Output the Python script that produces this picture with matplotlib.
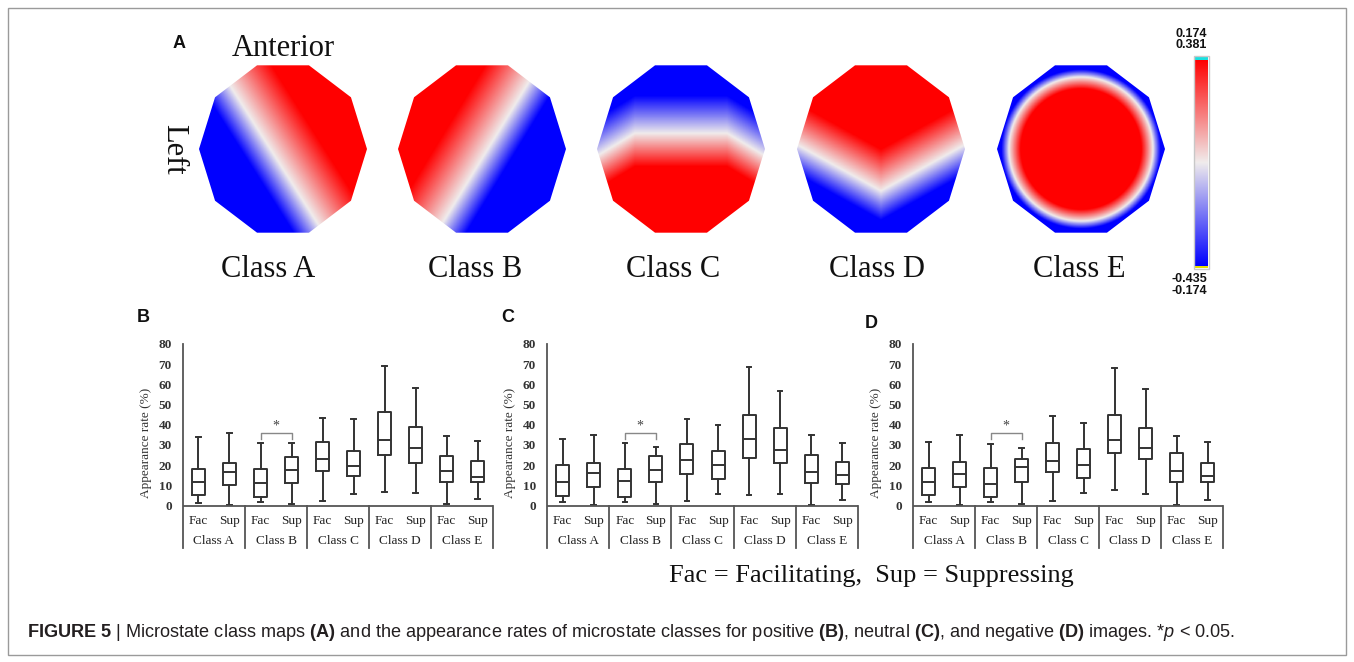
import numpy as np
import matplotlib
matplotlib.use("Agg")
import matplotlib.pyplot as plt
from matplotlib.colors import LinearSegmentedColormap
from matplotlib.patches import Polygon, Rectangle
from matplotlib import transforms

plt.rcParams["font.family"] = ["Liberation Serif", "DejaVu Serif"]
plt.rcParams["mathtext.fontset"] = "custom"
plt.rcParams["mathtext.rm"] = "Liberation Sans"
plt.rcParams["mathtext.bf"] = "Liberation Sans:bold"
plt.rcParams["mathtext.it"] = "Liberation Sans:italic"

W, H = 1354, 662

# ---- data -------------------------------------------------------------
classes = ["Class A", "Class B", "Class C", "Class D", "Class E"]
conditions = ["Fac", "Sup"]
yticks = [0, 10, 20, 30, 40, 50, 60, 70, 80]

# order: A Fac, A Sup, B Fac, B Sup, ... E Sup
pos_high = [33.7, 35.8, 31.2, 31.2, 43.4, 42.9, 69.3, 58.1, 34.2, 32.0]
pos_q3 = [18.0, 21.1, 18.0, 24.1, 31.4, 27.1, 46.2, 38.9, 24.4, 21.8]
pos_med = [11.4, 16.5, 11.0, 17.7, 23.1, 19.8, 32.3, 28.5, 17.0, 14.2]
pos_q1 = [5.1, 10.2, 4.1, 11.0, 17.2, 14.4, 24.9, 21.1, 11.4, 11.6]
pos_low = [1.3, 0.3, 1.6, 0.7, 2.3, 5.9, 6.9, 6.4, 0.7, 3.1]

neu_high = [32.7, 35.0, 31.0, 28.9, 42.9, 40.1, 68.5, 56.8, 34.8, 31.2]
neu_q3 = [20.0, 21.0, 18.2, 24.4, 30.4, 27.2, 44.9, 38.6, 24.9, 21.6]
neu_med = [11.4, 16.2, 11.9, 17.8, 22.4, 20.3, 32.7, 27.4, 16.5, 14.9]
neu_q1 = [4.8, 9.2, 4.3, 11.4, 15.5, 13.0, 23.6, 21.3, 10.9, 10.7]
neu_low = [1.8, 0.3, 1.8, 0.5, 2.1, 5.6, 5.0, 5.8, 0.3, 2.5]

neg_high = [31.4, 34.8, 30.4, 28.4, 44.2, 40.7, 68.3, 57.6, 34.3, 31.5]
neg_q3 = [18.5, 21.5, 18.5, 23.1, 31.0, 28.1, 45.0, 38.2, 26.0, 21.3]
neg_med = [11.4, 15.7, 10.7, 19.0, 21.9, 20.2, 32.5, 28.6, 17.0, 14.5]
neg_q1 = [5.1, 9.4, 4.3, 11.4, 16.7, 13.5, 26.2, 23.0, 11.4, 11.5]
neg_low = [1.6, 0.3, 1.6, 0.8, 2.1, 6.0, 7.6, 5.9, 0.3, 2.9]

cbar_top = ["0.174", "0.381"]
cbar_bottom = ["-0.435", "-0.174"]

caption = (r"$\mathbf{FIGURE\ 5}$ | Microstate class maps $\mathbf{(A)}$ and the "
           r"appearance rates of microstate classes for positive $\mathbf{(B)}$, "
           r"neutral $\mathbf{(C)}$, and negative $\mathbf{(D)}$ images. "
           r"*$\mathit{p}$ < 0.05.")

# ---- figure -----------------------------------------------------------
fig = plt.figure(figsize=(W / 100, H / 100), dpi=100)
bg = fig.add_axes([0, 0, 1, 1])
bg.axis("off")

cmap = LinearSegmentedColormap.from_list("bwr_map", ["#0000ff", "#f0ecec", "#ff0000"])


def shade(s, wp, wn):
    return np.where(s > 0, np.clip(s / wp, 0, 1), np.clip(s / wn, -1, 0))


# map grid (v points to the front of the head)
n = 300
half = 90 / 84
U, V = np.meshgrid(np.linspace(-half, half, n), np.linspace(half, -half, n))
R = np.hypot(U, V)
fields = [
    shade(0.843 * U + 0.535 * V + 0.128, 0.55, 0.3),
    shade(-0.853 * U + 0.522 * V + 0.06, 0.55, 0.3),
    shade((0.19 - V) - 0.6 * np.maximum(np.abs(U) - 0.55, 0), 0.4, 0.45),
    shade(V + 0.5 - 0.55 * np.abs(U), 0.5, 0.35),
    shade(0.86 - R, 0.14, 0.09),
]

map_x = [283, 482, 681, 881, 1081]
map_y = 149
label_x = [268, 475, 673, 877, 1079]
ang = np.deg2rad(np.arange(0, 360, 36))
for cx, fld, lx, name in zip(map_x, fields, label_x, classes):
    verts = np.column_stack([cx + 84 * np.cos(ang), map_y - 88 * np.sin(ang)])
    patch = Polygon(verts, closed=True, facecolor="none", edgecolor="none")
    bg.add_patch(patch)
    im = bg.imshow(fld, cmap=cmap, vmin=-1, vmax=1, origin="upper",
                   extent=(cx - 90, cx + 90, map_y + 90, map_y - 90),
                   interpolation="bilinear", aspect="auto")
    im.set_clip_path(patch)
    bg.text(lx, 277, name, ha="center", va="baseline", fontsize=22, color="#111")

bg.text(283, 56, "Anterior", ha="center", va="baseline", fontsize=22, color="#111")
bg.text(174, 149, "Left", ha="center", va="center", rotation=270, fontsize=22, color="#111")
bg.text(179, 44, "A", ha="center", va="center", fontsize=13, fontweight="bold",
        family="Liberation Sans", color="#111")

# colour bar
grad = np.linspace(1, -1, 256)[:, None]
bg.imshow(grad, cmap=cmap, vmin=-1, vmax=1, origin="upper",
          extent=(1195, 1208, 266, 59), aspect="auto")
bg.add_patch(Rectangle((1195, 57), 13, 2.5, color="#19e0e0", lw=0))
bg.add_patch(Rectangle((1195, 265.5), 13, 2.5, color="#e6df00", lw=0))
bg.add_patch(Rectangle((1194, 56), 15, 213, facecolor="none", edgecolor="#c8c8c8", lw=1))
for yy, s in zip([34, 45], cbar_top):
    bg.text(1207, yy, s, ha="right", va="center", fontsize=9, fontweight="bold",
            family="Liberation Sans", color="#111")
for yy, s in zip([279, 291], cbar_bottom):
    bg.text(1207, yy, s, ha="right", va="center", fontsize=9, fontweight="bold",
            family="Liberation Sans", color="#111")

# outer frame
bg.add_patch(Rectangle((8, 8), 1338, 647, facecolor="none", edgecolor="#9a9a9a", lw=1))

bg.text(871, 582, "Fac = Facilitating,  Sup = Suppressing", ha="center", va="baseline",
        fontsize=19, color="#111")
bg.text(27, 637, caption, ha="left", va="baseline", fontsize=13.1,
        family="Liberation Sans", color="#231f20")

bg.set_xlim(0, W)
bg.set_ylim(H, 0)

# ---- box plot panels --------------------------------------------------
y_top, y_zero, y_bot = 344, 505.5, 548
scale = (y_zero - y_top) / 80
ymin = -(y_bot - y_zero) / scale
panels = [
    ("B", 183, 493, (143, 318), (pos_low, pos_q1, pos_med, pos_q3, pos_high)),
    ("C", 547, 858, (508, 318), (neu_low, neu_q1, neu_med, neu_q3, neu_high)),
    ("D", 913, 1223, (871, 323), (neg_low, neg_q1, neg_med, neg_q3, neg_high)),
]
line_c = "#333333"
for letter, x0, x1, (lx, ly), (lo, q1, md, q3, hi) in panels:
    ax = fig.add_axes([x0 / W, 1 - y_bot / H, (x1 - x0) / W, (y_bot - y_top) / H])
    ax.set_facecolor("none")
    ax.set_xlim(0, 5)
    ax.set_ylim(ymin, 80)
    for sp in ["top", "right", "bottom"]:
        ax.spines[sp].set_visible(False)
    ax.spines["left"].set_color("#555")
    ax.spines["left"].set_linewidth(1.3)
    ax.set_xticks([])
    ax.set_yticks(yticks)
    ax.tick_params(axis="y", length=0, pad=8, labelsize=9.5, labelcolor="#333")
    for t in ax.get_yticklabels():
        t.set_fontweight("bold")

    stats = []
    pos = []
    for i in range(10):
        stats.append(dict(whislo=lo[i], q1=q1[i], med=md[i], q3=q3[i], whishi=hi[i]))
        pos.append(i // 2 + 0.25 + 0.5 * (i % 2))
    props = dict(color=line_c, linewidth=1.4)
    ax.bxp(stats, positions=pos, widths=0.21, capwidths=0.07, showfliers=False,
           boxprops=props, whiskerprops=props, capprops=props, medianprops=props,
           manage_ticks=False)

    ax.axhline(0, color="#555", lw=1.3)
    for k in range(1, 6):
        ax.plot([k, k], [0, ymin], color="#555", lw=1.3, clip_on=False)
    for i, name in enumerate(classes):
        for j, c in enumerate(conditions):
            ax.text(i + 0.25 + 0.5 * j, -7.7, c, ha="center", va="center",
                    fontsize=9.5, color="#222")
        ax.text(i + 0.5, -17.6, name, ha="center", va="center", fontsize=9.5, color="#222")

    ax.plot([1.25, 1.25, 1.75, 1.75], [33, 36, 36, 33], color="#888", lw=1)
    ax.text(1.5, 39.5, "*", ha="center", va="center", fontsize=10, color="#444")

    tr = transforms.blended_transform_factory(ax.transAxes, ax.transData)
    ax.text(-37 / (x1 - x0), 31, "Appearance rate (%)", transform=tr, rotation=90,
            ha="center", va="center", fontsize=9.5, color="#333")
    bg.text(lx, ly, letter, ha="center", va="center", fontsize=13, fontweight="bold",
            family="Liberation Sans", color="#111")

fig.savefig("out.png", dpi=100)
